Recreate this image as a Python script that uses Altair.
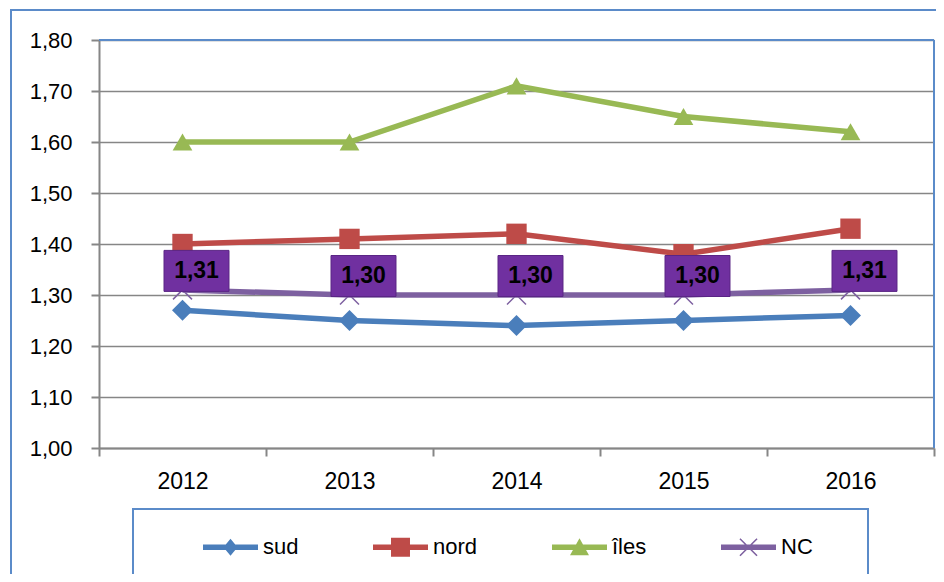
import altair as alt
import pandas as pd

years = ["2012", "2013", "2014", "2015", "2016"]
series = ["sud", "nord", "îles", "NC"]
sud = [1.27, 1.25, 1.24, 1.25, 1.26]
nord = [1.40, 1.41, 1.42, 1.38, 1.43]
iles = [1.60, 1.60, 1.71, 1.65, 1.62]
nc = [1.31, 1.30, 1.30, 1.30, 1.31]
y_ticks = [1.0, 1.1, 1.2, 1.3, 1.4, 1.5, 1.6, 1.7, 1.8]

colors = ["#4A7EBB", "#BE4B48", "#98B954", "#7D60A0"]
FONT = "Liberation Sans"
GREY = "#868686"
BLUE = "#5B8BC9"

rows = []
for name, vals in zip(series, [sud, nord, iles, nc]):
    for yr, v in zip(years, vals):
        rows.append({"year": yr, "serie": name, "value": v,
                     "label": f"{v:.2f}".replace(".", ",")})
df = pd.DataFrame(rows)

x_enc = alt.X("year:O", sort=years,
              scale=alt.Scale(type="band", paddingInner=0, paddingOuter=0),
              axis=alt.Axis(title=None, labelAngle=0, labelFont=FONT, labelFontSize=23,
                            labelColor="#000000", tickBand="extent", tickSize=8,
                            tickColor=GREY, tickWidth=2, domainColor=GREY, domainWidth=2,
                            grid=False, labelPadding=14))
y_enc = alt.Y("value:Q",
              scale=alt.Scale(domain=[1.0, 1.8], nice=False, zero=False),
              axis=alt.Axis(title=None, values=y_ticks, labelFont=FONT, labelFontSize=22,
                            labelColor="#000000", tickSize=8, tickColor=GREY, tickWidth=2,
                            domainColor=GREY, domainWidth=2, gridColor=GREY, gridWidth=1.5,
                            labelPadding=19,
                            labelExpr="replace(format(datum.value, '.2f'), '.', ',')"))


def color_enc(legend=None):
    return alt.Color("serie:N", scale=alt.Scale(domain=series, range=colors), legend=legend)


base = alt.Chart(df)

# decorative frames
frame = alt.Chart(pd.DataFrame({"k": [0]})).mark_rect(
    fill=None, stroke=BLUE, strokeWidth=2).encode(
    x=alt.value(-88), x2=alt.value(860), y=alt.value(-30), y2=alt.value(600))
legend_box = alt.Chart(pd.DataFrame({"k": [0]})).mark_rect(
    fill=None, stroke=BLUE, strokeWidth=2).encode(
    x=alt.value(34), x2=alt.value(769), y=alt.value(469), y2=alt.value(600))
top_border = alt.Chart(pd.DataFrame({"k": [0]})).mark_rule(
    stroke=BLUE, strokeWidth=2).encode(
    x=alt.value(0), x2=alt.value(835), y=alt.value(0))
right_border = alt.Chart(pd.DataFrame({"k": [0]})).mark_rule(
    stroke=BLUE, strokeWidth=2).encode(
    x=alt.value(835), y=alt.value(0), y2=alt.value(408))

lines = base.mark_line(strokeWidth=5.5).encode(
    x=x_enc, y=y_enc, color=color_enc(), detail="serie:N")

marker_shapes = ["diamond", "square", "triangle-up", "M-1,-1L1,1M-1,1L1,-1"]
shape_scale = alt.Scale(domain=series, range=marker_shapes)
size_scale = alt.Scale(domain=series, range=[441, 361, 441, 324])

pts_filled = base.transform_filter("datum.serie != 'NC'").mark_point(
    filled=True, opacity=1).encode(
    x=x_enc, y=y_enc, color=color_enc(),
    shape=alt.Shape("serie:N", scale=shape_scale, legend=None),
    size=alt.Size("serie:N", scale=size_scale, legend=None),
)
pts_nc = base.transform_filter("datum.serie == 'NC'").mark_point(
    filled=False, opacity=1, strokeWidth=1.5).encode(
    x=x_enc, y=y_enc, color=color_enc(),
    shape=alt.Shape("serie:N", scale=shape_scale, legend=None),
    size=alt.Size("serie:N", scale=size_scale, legend=None),
)

# data label boxes for NC
box_path = "M-1.585,-1H1.585V1H-1.585Z"
boxes = base.transform_filter("datum.serie == 'NC'").mark_point(
    shape=box_path, size=1681, filled=True, fill="#7030A0", stroke="#5A2585",
    strokeWidth=1, opacity=1, xOffset=14, yOffset=-19).encode(x=x_enc, y=y_enc)
texts = base.transform_filter("datum.serie == 'NC'").mark_text(
    font=FONT, fontSize=23, fontWeight="bold", color="#000000",
    dx=14, dy=-19, align="center", baseline="middle").encode(
    x=x_enc, y=y_enc, text="label:N")

# legend
line_p = "M-1,-0.1H1V0.1H-1Z"
legend_paths = [
    line_p + "M0,-0.31L0.255,0L0,0.31L-0.255,0Z",
    line_p + "M-0.345,-0.345H0.345V0.345H-0.345Z",
    line_p + "M0,-0.33L0.345,0.29H-0.345Z",
    line_p + "M-0.29,-0.33L0.33,0.29L0.29,0.33L-0.33,-0.29Z"
    + "M0.29,-0.33L0.33,-0.29L-0.29,0.33L-0.33,0.29Z",
]
LEG = alt.Legend(title=None, orient="none", legendX=104, legendY=479.5,
                 direction="horizontal", columns=4, symbolSize=3025,
                 symbolStrokeWidth=0, labelFont=FONT, labelFontSize=22,
                 labelColor="#000000", labelOffset=5, columnPadding=74,
                 padding=0, labelLimit=0)
legend_layer = base.transform_filter("false").mark_point(
    filled=True, size=3025, opacity=1).encode(
    x=x_enc, y=y_enc,
    color=color_enc(LEG),
    shape=alt.Shape("serie:N", scale=alt.Scale(domain=series, range=legend_paths), legend=LEG),
)

chart = alt.layer(
    frame, legend_box, lines, pts_filled, pts_nc, top_border, right_border,
    boxes, texts, legend_layer
).resolve_scale(shape="independent", size="independent", color="independent").properties(
    width=835, height=408,
    autosize=alt.AutoSizeParams(type="none"),
    padding={"left": 91, "top": 32, "right": 2, "bottom": 126},
).configure_view(stroke=None).configure(background="white")

chart.save("out.html", embed_options={"renderer": "svg", "actions": False})
